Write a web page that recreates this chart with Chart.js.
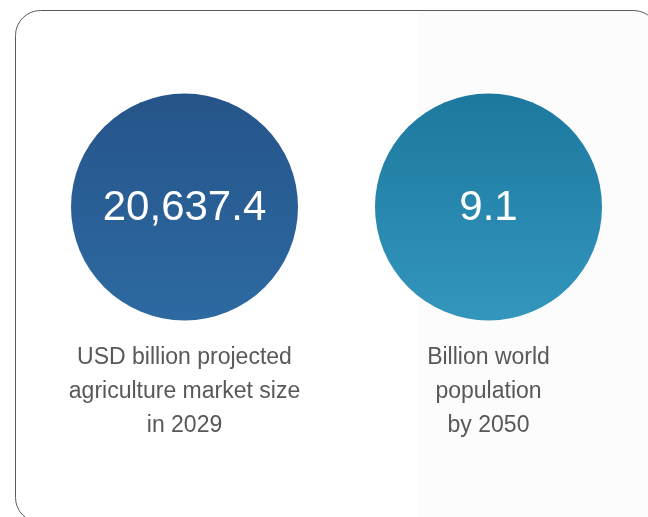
<!DOCTYPE html>
<html>
<head>
<meta charset="utf-8">
<script src="https://cdn.jsdelivr.net/npm/chart.js@4"></script>
<style>
  html, body { margin: 0; padding: 0; background: #ffffff; }
  #wrap { width: 648px; height: 517px; }
</style>
</head>
<body>
<div id="wrap"><canvas id="stats" width="648" height="517"></canvas></div>
<script>
var values = [20637.4, 9.1];
var valueLabels = ['20,637.4', '9.1'];
var captions = [
    ['USD billion projected', 'agriculture market size', 'in 2029'],
    ['Billion world', 'population', 'by 2050']
];
var topColors = ['#25548a', '#1c789f'];
var bottomColors = ['#2d6aa1', '#3496bd'];

var RADIUS = 113.5;

// card outline and the faint panel on the right
var cardPlugin = {
    id: 'card',
    beforeDraw: function(chart) {
        var ctx = chart.ctx;
        ctx.save();
        ctx.fillStyle = '#fcfcfc';
        ctx.fillRect(419, 11, 240, 510);
        var x = 15.5, y = 10.5, w = 643, h = 512, r = 25;
        ctx.beginPath();
        ctx.moveTo(x + r, y);
        ctx.lineTo(x + w - r, y);
        ctx.arcTo(x + w, y, x + w, y + r, r);
        ctx.lineTo(x + w, y + h - r);
        ctx.arcTo(x + w, y + h, x + w - r, y + h, r);
        ctx.lineTo(x + r, y + h);
        ctx.arcTo(x, y + h, x, y + h - r, r);
        ctx.lineTo(x, y + r);
        ctx.arcTo(x, y, x + r, y, r);
        ctx.closePath();
        ctx.strokeStyle = '#5a5a5a';
        ctx.lineWidth = 1;
        ctx.stroke();
        ctx.restore();
    }
};

// numbers inside the circles and captions underneath
var labelPlugin = {
    id: 'labels',
    afterDatasetsDraw: function(chart) {
        var ctx = chart.ctx;
        var meta = chart.getDatasetMeta(0);
        ctx.save();
        ctx.textAlign = 'center';
        ctx.textBaseline = 'middle';
        meta.data.forEach(function(pt, i) {
            ctx.fillStyle = '#ffffff';
            ctx.font = '42px "Liberation Sans", Arial, sans-serif';
            ctx.fillText(valueLabels[i], pt.x, pt.y + 1);
            ctx.fillStyle = '#585858';
            ctx.font = '23px "Liberation Sans", Arial, sans-serif';
            captions[i].forEach(function(line, j) {
                ctx.fillText(line, pt.x, pt.y + 151 + j * 34);
            });
        });
        ctx.restore();
    }
};

function circleFill(context) {
    var chart = context.chart;
    var i = context.dataIndex;
    var el = chart.getDatasetMeta(0).data[i];
    if (!el || el.y === undefined) return topColors[i];
    var g = chart.ctx.createLinearGradient(0, el.y - RADIUS, 0, el.y + RADIUS);
    g.addColorStop(0, topColors[i]);
    g.addColorStop(1, bottomColors[i]);
    return g;
}

new Chart(document.getElementById('stats').getContext('2d'), {
    type: 'scatter',
    data: {
        datasets: [{
            data: values.map(function(v, i) { return { x: i, y: 0.5, v: v }; }),
            pointRadius: RADIUS,
            pointHoverRadius: RADIUS,
            borderWidth: 0,
            clip: false,
            backgroundColor: circleFill
        }]
    },
    options: {
        responsive: false,
        animation: false,
        events: [],
        layout: { autoPadding: false, padding: { left: 32.5, right: 7.5, top: 0, bottom: 103 } },
        plugins: {
            legend: { display: false },
            tooltip: { enabled: false }
        },
        scales: {
            x: { type: 'linear', min: -0.5, max: 1.5, display: false },
            y: { type: 'linear', min: 0, max: 1, display: false }
        }
    },
    plugins: [cardPlugin, labelPlugin]
});
</script>
</body>
</html>
